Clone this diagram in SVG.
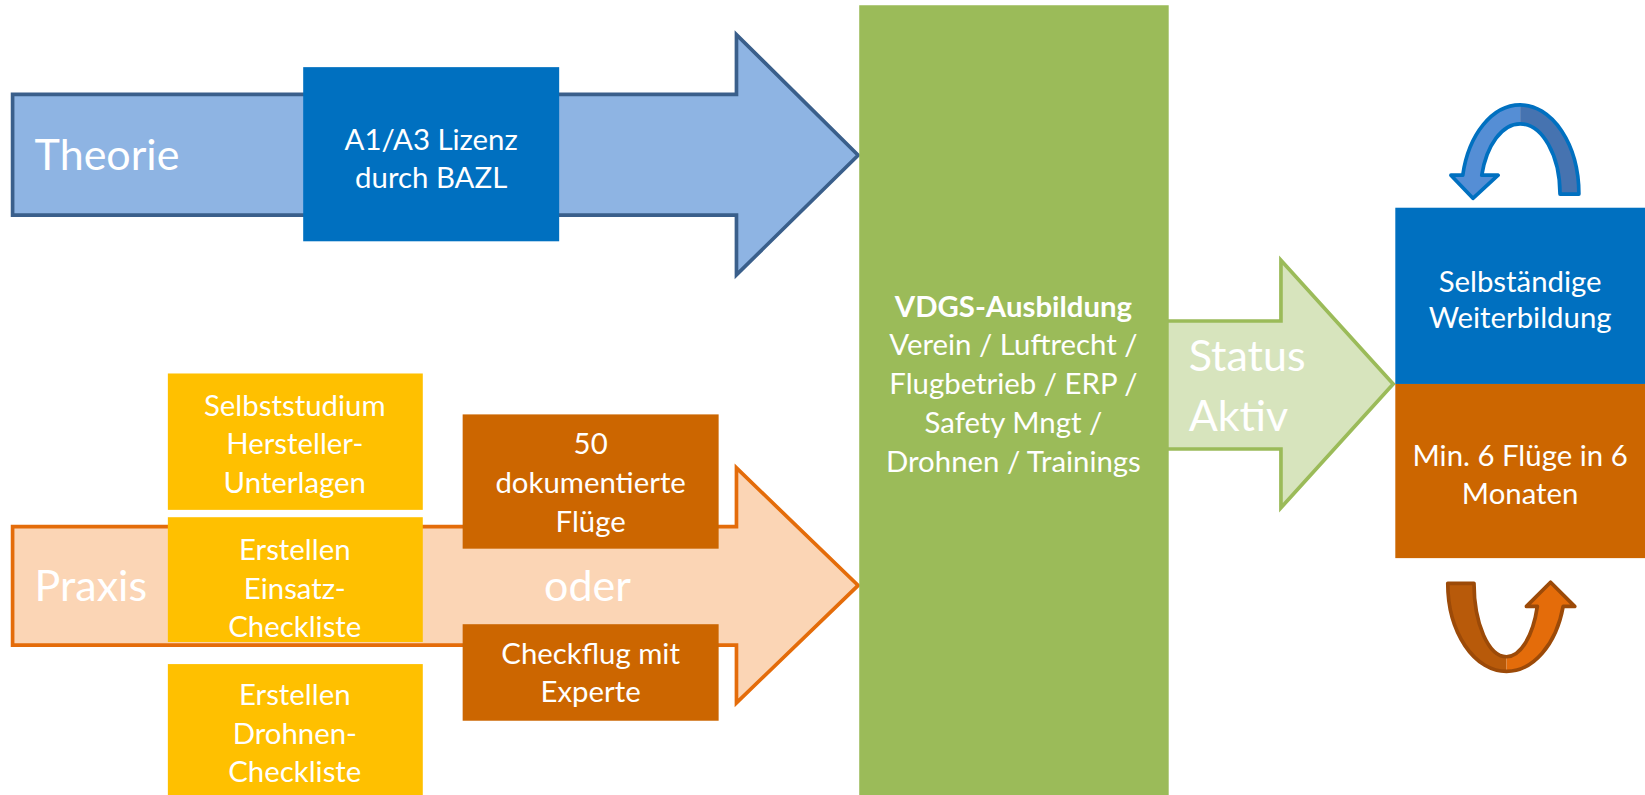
<svg xmlns="http://www.w3.org/2000/svg" width="1645" height="795" viewBox="0 0 1645 795">
<style>
.t{font-family:Lato,"Open Sans","Liberation Sans",sans-serif;fill:#fff;text-anchor:middle;font-size:28px}
.big{font-family:Lato,"Open Sans","Liberation Sans",sans-serif;fill:#fff;font-size:41px}
.b{font-weight:bold}
</style>
<rect width="1645" height="795" fill="#fff"/>
<g transform="scale(1.0491)">
<g id="connectors">
<g id="arrow-theorie">
<path d="M12,90 L702,90 L702,33 L818,148 L702,262 L702,205 L12,205 Z" fill="#8EB4E3" stroke="#3A5F8B" stroke-width="3.5"/>
<text class="big" x="33" y="162">Theorie</text>
</g>
<g id="arrow-praxis">
<path d="M12,502 L702,502 L702,446 L818,558 L702,670 L702,615 L12,615 Z" fill="#FBD5B5" stroke="#E46C0A" stroke-width="3.5"/>
<text class="big" x="33" y="573">Praxis</text>
<text class="big" x="560" y="573" text-anchor="middle">oder</text>
</g>
<g id="arrow-status">
<path d="M1105,306 L1221,306 L1221,248 L1328,366 L1221,484 L1221,428 L1105,428 Z" fill="#D7E4BD" stroke="#9BBB59" stroke-width="3.5"/>
<text class="big" x="1133" y="354">Status</text>
<text class="big" x="1133" y="411">Aktiv</text>
</g>
</g>
<g id="node-a1a3">
<rect x="289" y="64" width="244" height="166" fill="#0070C0"/>
<text class="t" x="411" y="143">A1/A3 Lizenz</text>
<text class="t" x="411" y="179">durch BAZL</text>
</g>
<g id="node-selbststudium">
<rect x="160" y="356" width="243" height="130" fill="#FFC000"/>
<text class="t" x="281" y="397">Selbststudium</text>
<text class="t" x="281" y="433">Hersteller-</text>
<text class="t" x="281" y="470">Unterlagen</text>
</g>
<g id="node-einsatz">
<rect x="160" y="493" width="243" height="119" fill="#FFC000"/>
<text class="t" x="281" y="534">Erstellen</text>
<text class="t" x="281" y="571">Einsatz-</text>
<text class="t" x="281" y="607">Checkliste</text>
</g>
<g id="node-drohnen">
<rect x="160" y="633" width="243" height="130" fill="#FFC000"/>
<text class="t" x="281" y="672">Erstellen</text>
<text class="t" x="281" y="709">Drohnen-</text>
<text class="t" x="281" y="745">Checkliste</text>
</g>
<g id="node-50fluege">
<rect x="441" y="395" width="244" height="128" fill="#CC6600"/>
<text class="t" x="563" y="433">50</text>
<text class="t" x="563" y="470">dokumentierte</text>
<text class="t" x="563" y="507">Flüge</text>
</g>
<g id="node-checkflug">
<rect x="441" y="595" width="244" height="92" fill="#CC6600"/>
<text class="t" x="563" y="633">Checkflug mit</text>
<text class="t" x="563" y="669">Experte</text>
</g>
<g id="node-vdgs">
<rect x="819" y="5" width="295" height="760" fill="#9BBB59"/>
<text class="t b" x="966" y="302">VDGS-Ausbildung</text>
<text class="t" x="966" y="338">Verein / Luftrecht /</text>
<text class="t" x="966" y="376">Flugbetrieb / ERP /</text>
<text class="t" x="966" y="413">Safety Mngt /</text>
<text class="t" x="966" y="450">Drohnen / Trainings</text>
</g>
<g id="node-weiterbildung">
<rect x="1330" y="198" width="240" height="168" fill="#0070C0"/>
<text class="t" x="1449" y="278">Selbständige</text>
<text class="t" x="1449" y="313">Weiterbildung</text>
</g>
<g id="node-fluege">
<rect x="1330" y="366" width="240" height="166" fill="#CC6600"/>
<text class="t" x="1449" y="444">Min. 6 Flüge in 6</text>
<text class="t" x="1449" y="480">Monaten</text>
</g>
<g id="loop-blue">
<path d="M1449,100 A56 85 0 0 0 1394.3,167 L1383,167 L1404,189 L1428,167 L1412.4,167 A38 67 0 0 1 1449,118 Z" fill="#558ED5"/>
<path d="M1449,100 A56 85 0 0 1 1505,185 L1487,185 A38 67 0 0 0 1449,118 Z" fill="#4673B0"/>
<path d="M1487,185 L1505,185 A56 85 0 0 0 1449,100 A56 85 0 0 0 1394.3,167 L1383,167 L1404,189 L1428,167 L1412.4,167 A38 67 0 0 1 1449,118 A38 67 0 0 1 1487,185 Z" fill="none" stroke="#0070C0" stroke-width="3.5" stroke-linejoin="round"/>
</g>
<g id="loop-orange">
<path d="M1380,556 L1405,556 A31 70 0 0 0 1436,626 L1436,640 A56 84 0 0 1 1380,556 Z" fill="#B85A0A"/>
<path d="M1436,626 A31 70 0 0 0 1465.4,578 L1455,578 L1478,555 L1501,578 L1490,578 A56 84 0 0 1 1436,640 Z" fill="#E46C0A"/>
<path d="M1380,556 L1405,556 A31 70 0 0 0 1436,626 A31 70 0 0 0 1465.4,578 L1455,578 L1478,555 L1501,578 L1490,578 A56 84 0 0 1 1436,640 A56 84 0 0 1 1380,556 Z" fill="none" stroke="#9C4A08" stroke-width="3.5" stroke-linejoin="round"/>
</g>
</g>
</svg>
